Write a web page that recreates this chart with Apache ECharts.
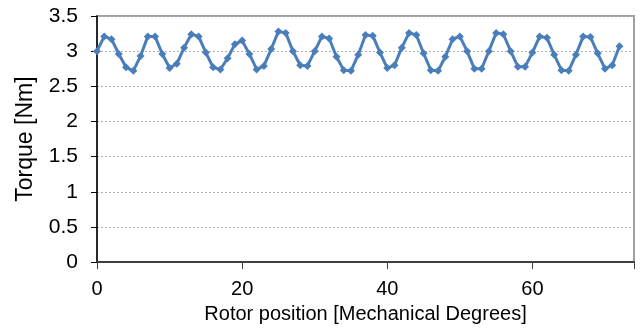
<!DOCTYPE html>
<html>
<head>
<meta charset="utf-8">
<script src="https://cdn.jsdelivr.net/npm/echarts@6/dist/echarts.min.js"></script>
<style>
  html, body { margin: 0; padding: 0; background: #fff; }
  #chart { width: 641px; height: 329px; }
</style>
</head>
<body>
<div id="chart"></div>
<script>
// rotor position in mechanical degrees, one sample per degree
const positions = [];
for (let d = 0; d <= 72; d++) positions.push(d);

// torque (Nm)
const torque = [
  3.00, 3.21, 3.17, 2.96, 2.77, 2.72,
  2.93, 3.21, 3.21, 2.96, 2.76, 2.82,
  3.05, 3.24, 3.21, 2.98, 2.77, 2.74,
  2.90, 3.10, 3.15, 2.96, 2.74, 2.79,
  3.03, 3.28, 3.26, 3.00, 2.80, 2.79,
  3.00, 3.21, 3.18, 2.92, 2.73, 2.72,
  2.95, 3.23, 3.22, 2.98, 2.76, 2.80,
  3.05, 3.26, 3.23, 2.97, 2.73, 2.72,
  2.92, 3.17, 3.21, 3.00, 2.75, 2.75,
  3.00, 3.26, 3.24, 3.00, 2.78, 2.78,
  2.98, 3.21, 3.19, 2.95, 2.73, 2.72,
  2.95, 3.21, 3.20, 2.97, 2.75, 2.80,
  3.07
];

const yTicks = [0, 0.5, 1, 1.5, 2, 2.5, 3, 3.5];
const xTicks = [0, 20, 40, 60];

const chart = echarts.init(document.getElementById('chart'), null, { renderer: 'canvas' });

const font = 'Liberation Sans, Arial, sans-serif';

chart.setOption({
  animation: false,
  backgroundColor: '#ffffff',
  grid: {
    left: 97,
    right: 7,
    top: 16,
    bottom: 62,
    show: true,
    borderColor: '#a0a0a0',
    borderWidth: 2
  },
  xAxis: {
    type: 'value',
    min: 0,
    max: 74,
    interval: 20,
    name: 'Rotor position [Mechanical Degrees]',
    nameLocation: 'middle',
    nameGap: 36,
    nameTextStyle: { fontFamily: font, fontSize: 20, color: '#000' },
    axisLine: { show: true, onZero: false, lineStyle: { color: '#404040', width: 2 } },
    axisTick: { show: true, inside: false, length: 7, lineStyle: { color: '#404040', width: 1 } },
    axisLabel: {
      fontFamily: font, fontSize: 20, color: '#000', margin: 17,
      formatter: v => (xTicks.includes(v) ? String(v) : '')
    },
    splitLine: { show: false }
  },
  yAxis: {
    type: 'value',
    min: 0,
    max: 3.5,
    interval: 0.5,
    name: 'Torque [Nm]',
    nameLocation: 'middle',
    nameGap: 60,
    nameTextStyle: { fontFamily: font, fontSize: 23, color: '#000' },
    axisLine: { show: true, lineStyle: { color: '#000', width: 1.5 } },
    axisTick: { show: true, inside: false, length: 6, lineStyle: { color: '#000', width: 1 } },
    axisLabel: {
      fontFamily: font, fontSize: 21, color: '#000', margin: 19,
      formatter: v => (yTicks.includes(v) ? String(v) : '')
    },
    splitLine: { show: true, lineStyle: { color: '#b0b0b0', type: [2, 2], width: 1 } }
  },
  series: [{
    type: 'line',
    data: positions.map((p, i) => [p, torque[i]]),
    symbol: 'diamond',
    symbolSize: 8,
    showSymbol: true,
    lineStyle: { color: '#4a7ebb', width: 3 },
    itemStyle: { color: '#4a7ebb' }
  }]
});
</script>
</body>
</html>
